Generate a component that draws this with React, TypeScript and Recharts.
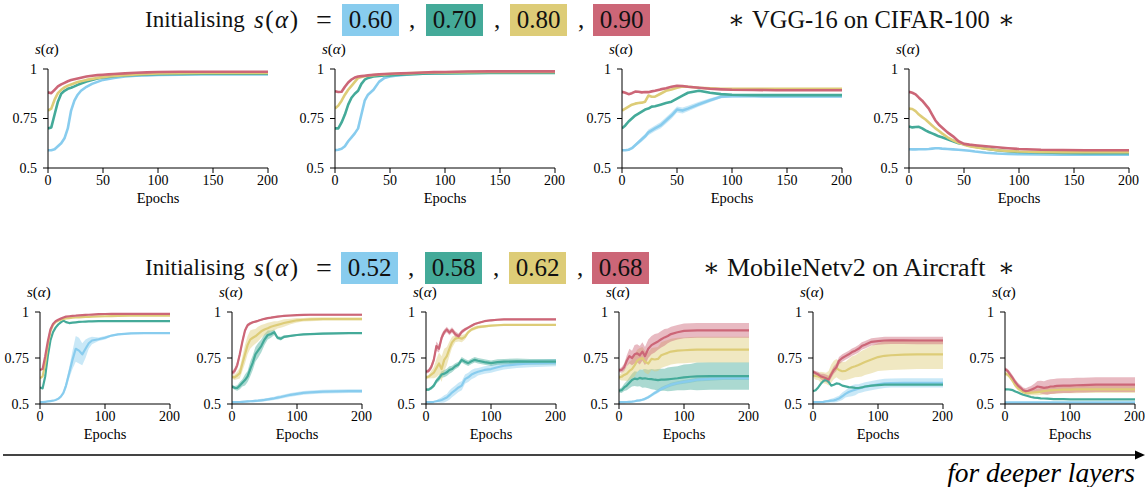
import React from "react";
import { ComposedChart, Line, Area, XAxis, YAxis } from "recharts";

const SERIF = '"Liberation Serif", "Times New Roman", Tinos, "DejaVu Serif", "Noto Serif", FreeSerif, serif';
const BLUE = "#88CCEE";
const TEAL = "#44AA99";
const SAND = "#DDCC77";
const ROSE = "#CC6677";

// epochs sampled along x
const topEpochs = [0, 3, 6, 9, 12, 15, 18, 21, 24, 27, 30, 35, 40, 45, 50, 55, 60, 70, 80, 90, 100, 120, 140, 160, 180, 200];
const botEpochs = [0, 4, 8, 12, 16, 20, 24, 28, 32, 36, 40, 45, 50, 55, 60, 65, 70, 75, 80, 90, 100, 110, 120, 140, 160, 180, 200];

const topXTicks = [0, 50, 100, 150, 200];
const botXTicks = [0, 100, 200];
const yTicks = [0.5, 0.75, 1];

const vggInit = ["0.60", "0.70", "0.80", "0.90"];
const mobInit = ["0.52", "0.58", "0.62", "0.68"];

// VGG-16 on CIFAR-100
const t1Blue = [0.59, 0.59, 0.595, 0.61, 0.625, 0.65, 0.7, 0.79, 0.84, 0.87, 0.89, 0.91, 0.925, 0.935, 0.945, 0.95, 0.955, 0.962, 0.966, 0.968, 0.97, 0.971, 0.972, 0.972, 0.972, 0.972];
const t1Teal = [0.7, 0.705, 0.77, 0.835, 0.875, 0.89, 0.9, 0.905, 0.912, 0.92, 0.927, 0.937, 0.945, 0.952, 0.957, 0.96, 0.963, 0.967, 0.97, 0.972, 0.974, 0.975, 0.976, 0.976, 0.976, 0.976];
const t1Sand = [0.79, 0.8, 0.845, 0.878, 0.895, 0.907, 0.916, 0.922, 0.928, 0.934, 0.938, 0.945, 0.95, 0.955, 0.959, 0.962, 0.965, 0.969, 0.972, 0.975, 0.977, 0.979, 0.98, 0.98, 0.98, 0.98];
const t1Rose = [0.882, 0.878, 0.895, 0.912, 0.922, 0.93, 0.938, 0.944, 0.948, 0.952, 0.956, 0.962, 0.966, 0.969, 0.971, 0.973, 0.975, 0.978, 0.981, 0.983, 0.985, 0.986, 0.986, 0.986, 0.986, 0.986];

const t2Blue = [0.59, 0.592, 0.597, 0.61, 0.635, 0.655, 0.675, 0.7, 0.77, 0.84, 0.87, 0.895, 0.935, 0.955, 0.962, 0.966, 0.969, 0.974, 0.976, 0.978, 0.979, 0.98, 0.981, 0.981, 0.981, 0.981];
const t2Teal = [0.7, 0.7, 0.73, 0.77, 0.82, 0.855, 0.875, 0.89, 0.925, 0.946, 0.955, 0.962, 0.965, 0.967, 0.968, 0.97, 0.971, 0.974, 0.976, 0.977, 0.978, 0.979, 0.98, 0.98, 0.98, 0.98];
const t2Sand = [0.8, 0.815, 0.84, 0.87, 0.895, 0.915, 0.935, 0.955, 0.96, 0.963, 0.966, 0.969, 0.971, 0.973, 0.975, 0.976, 0.977, 0.979, 0.981, 0.982, 0.983, 0.984, 0.985, 0.985, 0.985, 0.985];
const t2Rose = [0.888, 0.884, 0.885, 0.91, 0.932, 0.947, 0.957, 0.962, 0.964, 0.966, 0.968, 0.971, 0.973, 0.975, 0.976, 0.977, 0.978, 0.98, 0.982, 0.984, 0.985, 0.987, 0.988, 0.988, 0.988, 0.988];

const t3Blue = [0.59, 0.59, 0.592, 0.6, 0.615, 0.63, 0.645, 0.66, 0.68, 0.69, 0.7, 0.715, 0.74, 0.765, 0.795, 0.79, 0.8, 0.822, 0.842, 0.86, 0.862, 0.862, 0.861, 0.861, 0.861, 0.861];
const t3BlueSd = [0, 0.002, 0.004, 0.006, 0.008, 0.01, 0.012, 0.012, 0.014, 0.015, 0.015, 0.016, 0.016, 0.016, 0.015, 0.015, 0.014, 0.012, 0.01, 0.008, 0.006, 0.005, 0.005, 0.005, 0.005, 0.005];
const t3Teal = [0.7, 0.715, 0.735, 0.75, 0.765, 0.775, 0.785, 0.795, 0.8, 0.81, 0.812, 0.82, 0.828, 0.835, 0.85, 0.865, 0.88, 0.89, 0.88, 0.873, 0.87, 0.868, 0.868, 0.868, 0.868, 0.868];
const t3Sand = [0.79, 0.8, 0.81, 0.82, 0.825, 0.828, 0.83, 0.835, 0.866, 0.86, 0.86, 0.875, 0.89, 0.897, 0.905, 0.912, 0.91, 0.905, 0.902, 0.9, 0.9, 0.9, 0.9, 0.9, 0.9, 0.9];
const t3Rose = [0.885, 0.88, 0.873, 0.878, 0.886, 0.885, 0.882, 0.884, 0.883, 0.887, 0.89, 0.897, 0.903, 0.91, 0.915, 0.914, 0.91, 0.905, 0.9, 0.897, 0.895, 0.894, 0.893, 0.893, 0.893, 0.893];

const t4Blue = [0.595, 0.594, 0.594, 0.595, 0.595, 0.595, 0.596, 0.598, 0.6, 0.6, 0.598, 0.596, 0.594, 0.592, 0.59, 0.587, 0.583, 0.577, 0.573, 0.571, 0.57, 0.568, 0.567, 0.567, 0.567, 0.567];
const t4Teal = [0.71, 0.705, 0.707, 0.708, 0.7, 0.69, 0.682, 0.675, 0.668, 0.66, 0.655, 0.645, 0.635, 0.625, 0.62, 0.613, 0.607, 0.598, 0.59, 0.585, 0.581, 0.578, 0.576, 0.575, 0.575, 0.575];
const t4Sand = [0.8, 0.798, 0.787, 0.77, 0.757, 0.745, 0.73, 0.715, 0.7, 0.688, 0.675, 0.655, 0.64, 0.627, 0.618, 0.61, 0.605, 0.597, 0.59, 0.586, 0.583, 0.581, 0.58, 0.58, 0.58, 0.58];
const t4Rose = [0.885, 0.88, 0.872, 0.855, 0.84, 0.82, 0.8, 0.77, 0.74, 0.72, 0.705, 0.68, 0.66, 0.635, 0.622, 0.618, 0.615, 0.61, 0.605, 0.6, 0.596, 0.592, 0.591, 0.59, 0.59, 0.59];

// MobileNetv2 on Aircraft
const b1Blue = [0.51, 0.51, 0.512, 0.514, 0.516, 0.518, 0.522, 0.528, 0.54, 0.56, 0.6, 0.67, 0.74, 0.8, 0.79, 0.77, 0.8, 0.83, 0.845, 0.852, 0.86, 0.872, 0.878, 0.884, 0.885, 0.885, 0.885];
const b1BlueSd = [0, 0, 0, 0, 0, 0, 0, 0, 0.005, 0.01, 0.02, 0.03, 0.05, 0.07, 0.07, 0.06, 0.05, 0.03, 0.02, 0.01, 0.01, 0.005, 0.005, 0.005, 0.005, 0.005, 0.005];
const b1Teal = [0.59, 0.585, 0.65, 0.76, 0.845, 0.89, 0.915, 0.932, 0.944, 0.953, 0.945, 0.94, 0.942, 0.944, 0.946, 0.947, 0.948, 0.949, 0.949, 0.95, 0.95, 0.95, 0.95, 0.95, 0.95, 0.95, 0.95];
const b1Sand = [0.64, 0.65, 0.72, 0.82, 0.895, 0.93, 0.945, 0.952, 0.958, 0.962, 0.965, 0.967, 0.969, 0.97, 0.971, 0.972, 0.973, 0.974, 0.975, 0.976, 0.977, 0.978, 0.979, 0.98, 0.98, 0.98, 0.98];
const b1Rose = [0.685, 0.69, 0.76, 0.84, 0.905, 0.935, 0.95, 0.958, 0.964, 0.97, 0.975, 0.977, 0.979, 0.98, 0.982, 0.983, 0.984, 0.985, 0.986, 0.988, 0.989, 0.99, 0.99, 0.99, 0.99, 0.99, 0.99];

const b2Blue = [0.51, 0.51, 0.51, 0.511, 0.512, 0.513, 0.514, 0.515, 0.516, 0.517, 0.518, 0.52, 0.522, 0.525, 0.528, 0.531, 0.535, 0.538, 0.542, 0.55, 0.555, 0.56, 0.563, 0.567, 0.569, 0.57, 0.57];
const b2BlueSd = [0.004, 0.004, 0.004, 0.005, 0.005, 0.005, 0.006, 0.006, 0.006, 0.007, 0.007, 0.008, 0.008, 0.008, 0.009, 0.009, 0.01, 0.01, 0.01, 0.01, 0.01, 0.01, 0.01, 0.01, 0.01, 0.01, 0.01];
const b2Teal = [0.595, 0.588, 0.587, 0.6, 0.615, 0.63, 0.65, 0.69, 0.725, 0.77, 0.79, 0.815, 0.85, 0.875, 0.88, 0.89, 0.86, 0.855, 0.865, 0.87, 0.875, 0.878, 0.88, 0.883, 0.884, 0.885, 0.885];
const b2TealSd = [0.01, 0.01, 0.015, 0.02, 0.02, 0.03, 0.03, 0.04, 0.04, 0.04, 0.04, 0.035, 0.03, 0.025, 0.02, 0.015, 0.01, 0.01, 0.008, 0.005, 0.005, 0.005, 0.005, 0.005, 0.005, 0.005, 0.005];
const b2Sand = [0.648, 0.645, 0.655, 0.668, 0.72, 0.77, 0.82, 0.85, 0.86, 0.868, 0.88, 0.895, 0.905, 0.912, 0.92, 0.925, 0.93, 0.935, 0.94, 0.948, 0.955, 0.958, 0.96, 0.962, 0.962, 0.962, 0.962];
const b2SandSd = [0.01, 0.015, 0.02, 0.03, 0.04, 0.05, 0.05, 0.05, 0.045, 0.04, 0.04, 0.035, 0.03, 0.03, 0.025, 0.025, 0.02, 0.02, 0.02, 0.015, 0.012, 0.01, 0.01, 0.01, 0.01, 0.01, 0.01];
const b2Rose = [0.668, 0.68, 0.71, 0.77, 0.84, 0.9, 0.928, 0.938, 0.944, 0.948, 0.952, 0.958, 0.963, 0.967, 0.969, 0.972, 0.975, 0.977, 0.979, 0.981, 0.983, 0.984, 0.985, 0.985, 0.985, 0.985, 0.985];
const b2RoseSd = [0.01, 0.015, 0.02, 0.02, 0.02, 0.015, 0.01, 0.008, 0.006, 0.005, 0.005, 0.005, 0.005, 0.005, 0.005, 0.005, 0.005, 0.005, 0.005, 0.005, 0.005, 0.005, 0.005, 0.005, 0.005, 0.005, 0.005];

const b3Blue = [0.51, 0.51, 0.51, 0.512, 0.515, 0.518, 0.522, 0.528, 0.535, 0.548, 0.562, 0.575, 0.59, 0.6, 0.635, 0.645, 0.66, 0.668, 0.675, 0.685, 0.69, 0.7, 0.708, 0.715, 0.72, 0.722, 0.725];
const b3BlueSd = [0, 0, 0, 0, 0.005, 0.01, 0.015, 0.02, 0.02, 0.025, 0.025, 0.025, 0.025, 0.025, 0.025, 0.025, 0.025, 0.025, 0.02, 0.02, 0.02, 0.02, 0.02, 0.02, 0.02, 0.02, 0.02];
const b3Teal = [0.578, 0.578, 0.587, 0.6, 0.625, 0.64, 0.66, 0.665, 0.672, 0.685, 0.69, 0.705, 0.715, 0.74, 0.73, 0.722, 0.732, 0.74, 0.735, 0.728, 0.722, 0.728, 0.73, 0.732, 0.73, 0.73, 0.73];
const b3TealSd = [0.008, 0.008, 0.01, 0.012, 0.014, 0.016, 0.018, 0.02, 0.02, 0.02, 0.018, 0.016, 0.015, 0.015, 0.015, 0.015, 0.015, 0.015, 0.015, 0.015, 0.015, 0.015, 0.015, 0.015, 0.015, 0.015, 0.015];
const b3Sand = [0.645, 0.648, 0.66, 0.67, 0.695, 0.72, 0.69, 0.74, 0.76, 0.8, 0.835, 0.855, 0.86, 0.855, 0.865, 0.89, 0.905, 0.912, 0.918, 0.922, 0.926, 0.928, 0.93, 0.93, 0.93, 0.93, 0.93];
const b3SandSd = [0.01, 0.01, 0.02, 0.03, 0.05, 0.06, 0.07, 0.06, 0.05, 0.04, 0.03, 0.02, 0.02, 0.02, 0.015, 0.01, 0.01, 0.01, 0.008, 0.008, 0.005, 0.005, 0.005, 0.005, 0.005, 0.005, 0.005];
const b3Rose = [0.675, 0.68, 0.7, 0.74, 0.815, 0.8, 0.86, 0.89, 0.905, 0.888, 0.902, 0.88, 0.868, 0.892, 0.905, 0.915, 0.925, 0.935, 0.94, 0.95, 0.955, 0.958, 0.96, 0.96, 0.96, 0.96, 0.96];
const b3RoseSd = [0.01, 0.01, 0.015, 0.02, 0.025, 0.02, 0.02, 0.015, 0.015, 0.015, 0.015, 0.015, 0.015, 0.012, 0.01, 0.008, 0.006, 0.005, 0.005, 0.005, 0.005, 0.005, 0.005, 0.005, 0.005, 0.005, 0.005];

const b4Blue = [0.51, 0.51, 0.51, 0.511, 0.512, 0.513, 0.515, 0.518, 0.52, 0.523, 0.528, 0.537, 0.548, 0.56, 0.57, 0.582, 0.59, 0.598, 0.605, 0.614, 0.62, 0.626, 0.632, 0.637, 0.64, 0.64, 0.64];
const b4BlueSd = [0.004, 0.004, 0.004, 0.005, 0.005, 0.005, 0.006, 0.006, 0.007, 0.007, 0.008, 0.008, 0.009, 0.01, 0.01, 0.01, 0.01, 0.01, 0.01, 0.01, 0.01, 0.01, 0.01, 0.01, 0.01, 0.01, 0.01];
const b4Teal = [0.572, 0.575, 0.59, 0.6, 0.615, 0.63, 0.638, 0.635, 0.642, 0.638, 0.64, 0.636, 0.635, 0.632, 0.63, 0.632, 0.632, 0.634, 0.636, 0.64, 0.645, 0.648, 0.65, 0.652, 0.652, 0.652, 0.652];
const b4TealSd = [0.01, 0.015, 0.02, 0.025, 0.03, 0.035, 0.04, 0.04, 0.045, 0.05, 0.05, 0.05, 0.055, 0.055, 0.06, 0.06, 0.06, 0.065, 0.065, 0.065, 0.07, 0.07, 0.075, 0.075, 0.075, 0.075, 0.075];
const b4Sand = [0.645, 0.648, 0.658, 0.665, 0.68, 0.69, 0.71, 0.735, 0.745, 0.75, 0.73, 0.72, 0.745, 0.742, 0.745, 0.765, 0.772, 0.778, 0.785, 0.79, 0.792, 0.794, 0.795, 0.795, 0.795, 0.795, 0.795];
const b4SandSd = [0.01, 0.02, 0.03, 0.04, 0.05, 0.05, 0.06, 0.06, 0.06, 0.06, 0.06, 0.06, 0.06, 0.065, 0.065, 0.07, 0.07, 0.07, 0.07, 0.07, 0.07, 0.07, 0.07, 0.07, 0.07, 0.07, 0.07];
const b4Rose = [0.683, 0.685, 0.7, 0.735, 0.76, 0.75, 0.77, 0.775, 0.765, 0.785, 0.76, 0.8, 0.82, 0.83, 0.84, 0.852, 0.862, 0.87, 0.88, 0.89, 0.897, 0.899, 0.9, 0.9, 0.9, 0.9, 0.9];
const b4RoseSd = [0.01, 0.015, 0.02, 0.03, 0.04, 0.04, 0.05, 0.05, 0.05, 0.05, 0.05, 0.05, 0.05, 0.05, 0.045, 0.045, 0.045, 0.04, 0.04, 0.04, 0.04, 0.04, 0.04, 0.04, 0.04, 0.04, 0.04];

const b5Blue = [0.51, 0.51, 0.51, 0.511, 0.512, 0.514, 0.516, 0.518, 0.52, 0.524, 0.53, 0.542, 0.555, 0.565, 0.572, 0.578, 0.583, 0.588, 0.593, 0.6, 0.607, 0.612, 0.614, 0.615, 0.615, 0.615, 0.615];
const b5BlueSd = [0, 0, 0, 0, 0.005, 0.005, 0.008, 0.01, 0.012, 0.015, 0.015, 0.02, 0.02, 0.025, 0.03, 0.03, 0.025, 0.025, 0.025, 0.025, 0.025, 0.025, 0.025, 0.025, 0.025, 0.025, 0.025];
const b5Teal = [0.57, 0.575, 0.59, 0.61, 0.625, 0.632, 0.62, 0.6, 0.605, 0.612, 0.61, 0.6, 0.596, 0.592, 0.59, 0.588, 0.587, 0.59, 0.595, 0.6, 0.603, 0.605, 0.605, 0.605, 0.605, 0.605, 0.605];
const b5Sand = [0.655, 0.652, 0.65, 0.645, 0.643, 0.64, 0.64, 0.665, 0.685, 0.695, 0.685, 0.678, 0.68, 0.69, 0.7, 0.705, 0.712, 0.72, 0.728, 0.742, 0.755, 0.762, 0.765, 0.768, 0.77, 0.77, 0.77];
const b5SandSd = [0.01, 0.02, 0.02, 0.03, 0.03, 0.03, 0.04, 0.05, 0.05, 0.05, 0.05, 0.05, 0.05, 0.055, 0.06, 0.06, 0.065, 0.07, 0.07, 0.075, 0.075, 0.08, 0.08, 0.08, 0.08, 0.08, 0.08];
const b5Rose = [0.675, 0.668, 0.66, 0.65, 0.645, 0.64, 0.633, 0.66, 0.685, 0.7, 0.735, 0.75, 0.76, 0.77, 0.782, 0.79, 0.8, 0.815, 0.822, 0.838, 0.842, 0.845, 0.846, 0.846, 0.845, 0.845, 0.845];
const b5RoseSd = [0.01, 0.012, 0.015, 0.015, 0.02, 0.02, 0.02, 0.02, 0.02, 0.02, 0.02, 0.02, 0.02, 0.02, 0.02, 0.02, 0.02, 0.02, 0.02, 0.02, 0.02, 0.02, 0.02, 0.02, 0.02, 0.02, 0.02];

const b6Blue = [0.509, 0.509, 0.509, 0.509, 0.509, 0.509, 0.509, 0.509, 0.509, 0.509, 0.509, 0.509, 0.509, 0.509, 0.509, 0.509, 0.509, 0.509, 0.509, 0.509, 0.509, 0.509, 0.509, 0.509, 0.509, 0.509, 0.509];
const b6Teal = [0.58, 0.58, 0.578, 0.575, 0.568, 0.562, 0.556, 0.55, 0.546, 0.542, 0.538, 0.535, 0.533, 0.531, 0.53, 0.529, 0.528, 0.527, 0.526, 0.526, 0.525, 0.525, 0.525, 0.525, 0.525, 0.525, 0.525];
const b6Sand = [0.665, 0.66, 0.645, 0.625, 0.6, 0.585, 0.575, 0.565, 0.56, 0.56, 0.562, 0.563, 0.565, 0.567, 0.57, 0.572, 0.574, 0.575, 0.576, 0.578, 0.578, 0.579, 0.58, 0.58, 0.58, 0.58, 0.58];
const b6SandSd = [0.01, 0.01, 0.01, 0.012, 0.012, 0.012, 0.015, 0.015, 0.015, 0.015, 0.015, 0.015, 0.018, 0.018, 0.018, 0.02, 0.02, 0.02, 0.02, 0.02, 0.02, 0.02, 0.02, 0.02, 0.02, 0.02, 0.02];
const b6Rose = [0.69, 0.68, 0.66, 0.64, 0.618, 0.6, 0.588, 0.575, 0.57, 0.572, 0.578, 0.585, 0.595, 0.592, 0.588, 0.59, 0.595, 0.596, 0.598, 0.6, 0.6, 0.602, 0.603, 0.605, 0.605, 0.605, 0.605];
const b6RoseSd = [0.01, 0.012, 0.015, 0.015, 0.015, 0.015, 0.015, 0.015, 0.015, 0.02, 0.02, 0.025, 0.03, 0.035, 0.035, 0.04, 0.04, 0.04, 0.04, 0.04, 0.04, 0.04, 0.04, 0.04, 0.04, 0.04, 0.04];

type Series = { color: string; mean: number[]; sd?: number[] };

const COLORS = [BLUE, TEAL, SAND, ROSE];
const mk = (list: (number[] | [number[], number[]])[]): Series[] =>
  list.map((s, i) =>
    Array.isArray(s[0])
      ? { color: COLORS[i], mean: s[0] as number[], sd: s[1] as number[] }
      : { color: COLORS[i], mean: s as number[] }
  );

const topPanels = [
  mk([t1Blue, t1Teal, t1Sand, t1Rose]),
  mk([t2Blue, t2Teal, t2Sand, t2Rose]),
  mk([[t3Blue, t3BlueSd], t3Teal, t3Sand, t3Rose]),
  mk([t4Blue, t4Teal, t4Sand, t4Rose]),
];
const topLefts = [48, 335, 622, 909];

const botPanels = [
  mk([[b1Blue, b1BlueSd], b1Teal, b1Sand, b1Rose]),
  mk([[b2Blue, b2BlueSd], [b2Teal, b2TealSd], [b2Sand, b2SandSd], [b2Rose, b2RoseSd]]),
  mk([[b3Blue, b3BlueSd], [b3Teal, b3TealSd], [b3Sand, b3SandSd], [b3Rose, b3RoseSd]]),
  mk([[b4Blue, b4BlueSd], [b4Teal, b4TealSd], [b4Sand, b4SandSd], [b4Rose, b4RoseSd]]),
  mk([[b5Blue, b5BlueSd], b5Teal, [b5Sand, b5SandSd], [b5Rose, b5RoseSd]]),
  mk([b6Blue, b6Teal, [b6Sand, b6SandSd], [b6Rose, b6RoseSd]]),
];
const botLefts = [40, 232, 426, 619, 813, 1005];

const blank = () => "";

function Panel({ left, top, w, h, epochs, series, xTicks, strokeW }: {
  left: number; top: number; w: number; h: number; epochs: number[];
  series: Series[]; xTicks: number[]; strokeW: number;
}) {
  const data = epochs.map((e, i) => {
    const row: any = { epoch: e };
    series.forEach((s, k) => {
      row["m" + k] = s.mean[i];
      if (s.sd) row["b" + k] = [s.mean[i] - s.sd[i], s.mean[i] + s.sd[i]];
    });
    return row;
  });
  const tickStyle = { fontFamily: SERIF, fontSize: 14, fill: "#000" };
  return (
    <>
      <div style={{ position: "absolute", left: left - 40, top: top - 10 }}>
        <ComposedChart width={w + 50} height={h + 50} data={data} margin={{ top: 10, right: 10, left: 0, bottom: 0 }}>
          <XAxis dataKey="epoch" type="number" domain={[0, 200]} ticks={xTicks} allowDataOverflow
            height={40} tickSize={5} tickMargin={2} tick={tickStyle} stroke="#000"
            label={{ value: "Epochs", position: "insideBottom", offset: 5, style: { fontFamily: SERIF, fontSize: 14.5, fill: "#000" } }} />
          <XAxis xAxisId="top" orientation="top" dataKey="epoch" type="number" domain={[0, 200]} ticks={xTicks}
            allowDataOverflow height={0} tickSize={5} tickFormatter={blank} stroke="#000" />
          <YAxis type="number" domain={[0.5, 1]} ticks={yTicks} allowDataOverflow width={40}
            tickSize={5} tickMargin={6} tick={tickStyle} stroke="#000" />
          <YAxis yAxisId="right" orientation="right" type="number" domain={[0.5, 1]} ticks={yTicks}
            allowDataOverflow width={0} tickSize={5} tickFormatter={blank} stroke="#000" />
          {series.map((s, k) =>
            s.sd ? (
              <Area key={"a" + k} dataKey={"b" + k} type="linear" stroke="none" fill={s.color}
                fillOpacity={0.45} isAnimationActive={false} dot={false} activeDot={false} />
            ) : null
          )}
          {series.map((s, k) => (
            <Line key={"l" + k} dataKey={"m" + k} type="linear" stroke={s.color} strokeWidth={strokeW}
              dot={false} activeDot={false} isAnimationActive={false} strokeLinejoin="round" />
          ))}
        </ComposedChart>
      </div>
      <div style={{ position: "absolute", left: left - 13, top: top - 30, fontFamily: SERIF, fontSize: 15, lineHeight: "20px" }}>
        <i>s</i>(<i>α</i>)
      </div>
    </>
  );
}

function Title({ y, values, boxes, commas, name, nameX, nameSize, starL, starR }: {
  y: number; values: string[]; boxes: number[]; commas: number[]; name: string; nameX: number; nameSize: number; starL: number; starR: number;
}) {
  const base = { position: "absolute" as const, top: y, height: 32, lineHeight: "32px", fontFamily: SERIF, fontSize: 25, color: "#111", whiteSpace: "nowrap" as const };
  return (
    <>
      <div style={{ ...base, left: 145, fontSize: 23 }}>Initialising</div>
      <div style={{ ...base, left: 254, fontSize: 25, letterSpacing: 1.5 }}>
        <i>s</i>(<i>α</i>)
      </div>
      <div style={{ ...base, left: 312, width: 24, textAlign: "center", fontSize: 28 }}>=</div>
      {values.map((v, i) => (
        <div key={v} style={{ ...base, left: boxes[i], width: 57, textAlign: "center", background: COLORS[i] }}>{v}</div>
      ))}
      {commas.map((c, i) => (
        <div key={"c" + i} style={{ ...base, left: c }}>,</div>
      ))}
      <div style={{ ...base, left: starL }}>∗</div>
      <div style={{ ...base, left: nameX, fontSize: nameSize }}>{name}</div>
      <div style={{ ...base, left: starR }}>∗</div>
    </>
  );
}

export default function App() {
  return (
    <div style={{ position: "absolute", left: 0, top: 0, width: 1145, height: 487, background: "#fff", overflow: "hidden", fontFamily: SERIF }}>
      <Title y={4} values={vggInit} boxes={[342, 426, 510, 593]} commas={[409, 494, 578]}
        name="VGG-16 on CIFAR-100" nameX={752} nameSize={24.5} starL={728} starR={998} />
      <Title y={252} values={mobInit} boxes={[341, 425, 509, 592]} commas={[408, 493, 577]}
        name="MobileNetv2 on Aircraft" nameX={727} nameSize={26} starL={703} starR={998} />
      {topPanels.map((s, i) => (
        <Panel key={"t" + i} left={topLefts[i]} top={69} w={220} h={99} epochs={topEpochs}
          series={s} xTicks={topXTicks} strokeW={2.6} />
      ))}
      {botPanels.map((s, i) => (
        <Panel key={"b" + i} left={botLefts[i]} top={312} w={130} h={92} epochs={botEpochs}
          series={s} xTicks={botXTicks} strokeW={2.2} />
      ))}
      <svg width={1145} height={487} style={{ position: "absolute", left: 0, top: 0, pointerEvents: "none" }}>
        <line x1={3} y1={455} x2={1136} y2={455} stroke="#444" strokeWidth={2} />
        <polygon points="1145,455 1135,450.5 1135,459.5" fill="#000" />
      </svg>
      <div style={{ position: "absolute", right: 10, top: 459, fontFamily: SERIF, fontStyle: "italic", fontSize: 27.5, lineHeight: "28px", whiteSpace: "nowrap" }}>
        for deeper layers
      </div>
    </div>
  );
}
